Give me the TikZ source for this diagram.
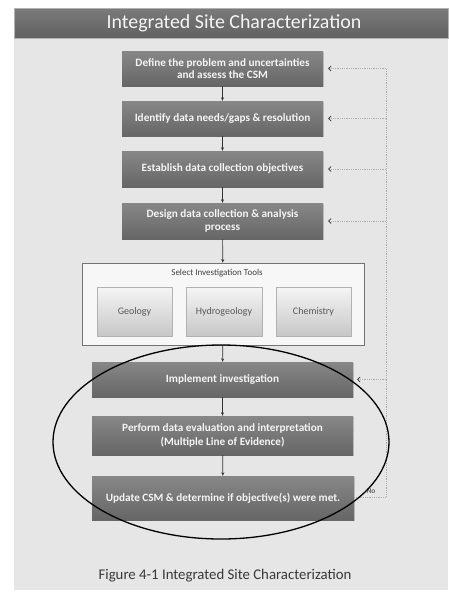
\documentclass[tikz,border=0pt]{standalone}
\usepackage{fontspec}
\setmainfont{Carlito}
\usetikzlibrary{arrows.meta,shadows}
\definecolor{panel}{HTML}{E6E6E6}
\begin{document}
\begin{tikzpicture}[x=1pt,y=-1pt,
  darkbox/.style={draw=none, top color=black!47, bottom color=black!60,
    drop shadow={shadow xshift=1pt,shadow yshift=-1.2pt,opacity=0.35},
    text=black!4, font=\fontsize{11.2}{12.5}\selectfont\bfseries, align=center, inner sep=1pt},
  toolbox/.style={draw=black!30, line width=0.6pt, top color=black!4, bottom color=black!22,
    text=black!65, font=\fontsize{10}{12}\selectfont, minimum width=75pt, minimum height=49pt},
  flow/.style={-{Stealth[length=3.5pt,width=3pt]}, black!80, line width=0.7pt},
  fb/.style={black!32, line width=0.8pt, densely dotted},
  fbarrow/.style={fb, -{Straight Barb[length=2.5pt,width=5pt,black!80,line width=0.7pt]}}
]
\useasboundingbox (0,0) rectangle (448,595);
\fill[white] (0,0) rectangle (448,595);
\fill[panel] (14,8) rectangle (448,590);
\fill[top color=black!52, bottom color=black!62, draw=black!30, line width=0.5pt] (14,8) rectangle (448,38);
\node[text=black!4, font=\fontsize{19.9}{22}\selectfont] (title) at (234,23.5) {Integrated Site Characterization};

\node[darkbox, minimum width=201pt, minimum height=35pt] (b1) at (222.5,68.5) {Define the problem and uncertainties\\and assess the CSM};
\node[darkbox, minimum width=201pt, minimum height=35pt] (b2) at (222.5,118.5) {Identify data needs/gaps \& resolution};
\node[darkbox, minimum width=201pt, minimum height=36pt] (b3) at (222.5,169) {Establish data collection objectives};
\node[darkbox, minimum width=201pt, minimum height=36pt] (b4) at (222.5,221) {Design data collection \& analysis\\process};

\node[draw=black!55, line width=0.8pt, fill=black!3, minimum width=282pt, minimum height=82pt] (sel) at (223,304) {};
\node[text=black!75, font=\fontsize{9}{10}\selectfont] (sellab) at (217,273) {Select Investigation Tools};
\node[toolbox] (geo) at (134.5,311.5) {Geology};
\node[toolbox, minimum width=76pt] (hyd) at (224,311.5) {Hydrogeology};
\node[toolbox] (chem) at (313.5,311.5) {Chemistry};

\node[darkbox, minimum width=261pt, minimum height=35pt] (b5) at (222.5,379.5) {Implement investigation};
\node[darkbox, minimum width=261pt, minimum height=39pt, font=\fontsize{11.2}{13.5}\selectfont\bfseries] (b6) at (222.5,435.5) {Perform data evaluation and interpretation\\(Multiple Line of Evidence)};
\node[darkbox, minimum width=262pt, minimum height=44pt] (b7) at (223,498) {Update CSM \& determine if objective(s) were met.};

\draw[flow] (b1) -- (b2);
\draw[flow] (b2) -- (b3);
\draw[flow] (b3) -- (b4);
\draw[flow] (b4) -- (sel);
\draw[flow] (sel) -- (b5);
\draw[flow] (b5) -- (b6);
\draw[flow] (b6) -- (b7);

\coordinate (cb) at (386,497);
\coordinate (ct) at (386,68.5);
\draw[fb] (b7.east |- cb) -- (cb) -- (ct);
\node[font=\fontsize{7.5}{8}\selectfont\bfseries, text=black!60] (no) at (371,491) {No};
\draw[fbarrow] (ct) -- ([xshift=5pt]b1.east);
\draw[fbarrow] (ct |- b2) -- ([xshift=5pt]b2.east);
\draw[fbarrow] (ct |- b3) -- ([xshift=5pt]b3.east);
\draw[fbarrow] (ct |- b4) -- ([xshift=5pt]b4.east);
\draw[fbarrow] (ct |- b5) -- ([xshift=4pt]b5.east);

\draw[black, line width=1.3pt] (221,442) ellipse [x radius=168, y radius=97];

\node[text=black!78, font=\fontsize{14.8}{16}\selectfont] (cap) at (225,576) {Figure 4-1 Integrated Site Characterization};
\end{tikzpicture}
\end{document}
